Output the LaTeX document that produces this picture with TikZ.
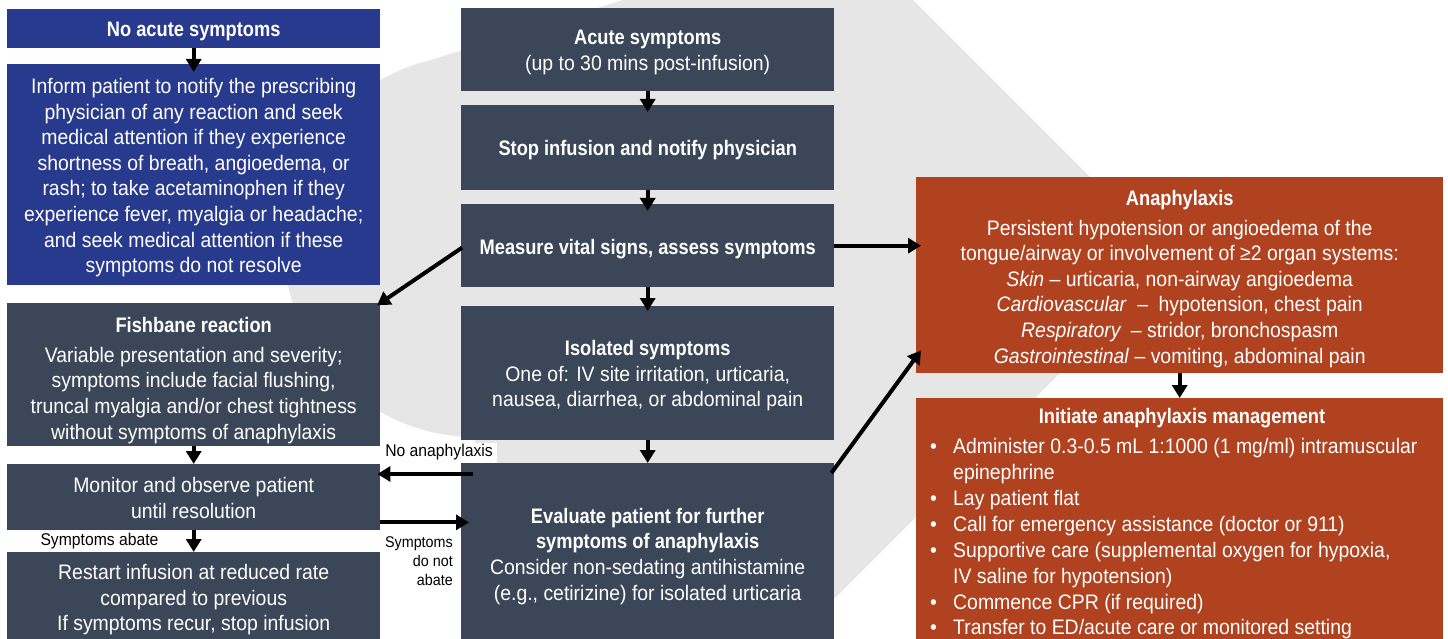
\documentclass[tikz,border=0pt]{standalone}
\usepackage{fontspec}
\setmainfont{Liberation Sans}[FakeStretch=0.925]
\newfontfamily\narrowbold{Liberation Sans}[FakeStretch=0.87]
\usetikzlibrary{arrows.meta,calc}
\definecolor{slate}{HTML}{3B4659}
\definecolor{royal}{HTML}{283A8D}
\definecolor{rust}{HTML}{B14220}
\definecolor{bggrey}{HTML}{E6E6E6}
\newcommand\ttlb[1]{{\narrowbold\bfseries #1}}
\tikzset{
  x=1pt, y=-1pt,
  box/.style={fill=slate, inner sep=0pt, anchor=north west},
  bluebox/.style={box, fill=royal},
  rustbox/.style={box, fill=rust},
  boxtext/.style={inner sep=0pt, text=white, align=center, font=\fontsize{21}{25.6}\selectfont},
  arr/.style={line width=4pt, black, -{Triangle[length=13pt,width=15pt]}},
  lbl/.style={inner sep=0pt, text=black, font=\fontsize{17}{19}\selectfont},
}
% style, name, x, y, width, height, text offset, text
\newcommand\mkbox[8]{%
  \node[#1, minimum width=#5pt, minimum height=#6pt] (#2) at (#3,#4) {};
  \node[boxtext] (#2-t) at ($(#2.center)+(0,#7)$) {#8};}
\begin{document}
\begin{tikzpicture}
\useasboundingbox (0,0) rectangle (1448,639);
\clip (0,0) rectangle (1448,639);
% background watermark
\fill[bggrey] (475,246) circle (191pt);
\fill[bggrey] (418,64) -- (623,0) -- (913,0) -- (1173,260) -- (833,600) -- (794,639) -- (475,639) -- (475,246) -- cycle;

% left column
\mkbox{bluebox}{noacute}{7}{9}{373}{39}{3}{\ttlb{No acute symptoms}}
\mkbox{bluebox}{inform}{7}{64}{373}{221}{3}
  {Inform patient to notify the prescribing\\physician of any reaction and seek\\medical attention if they experience\\shortness of breath, angioedema, or\\rash; to take acetaminophen if they\\experience fever, myalgia or headache;\\and seek medical attention if these\\symptoms do not resolve}
\mkbox{box}{fish}{7}{303}{373}{143}{5.5}
  {\ttlb{Fishbane reaction}\\[4.4pt]Variable presentation and severity;\\symptoms include facial flushing,\\truncal myalgia and/or chest tightness\\without symptoms of anaphylaxis}
\mkbox{box}{monitor}{7}{464}{373}{66}{1}
  {Monitor and observe patient\\until resolution}
\mkbox{box}{restart}{7}{552}{373}{92}{1.5}
  {Restart infusion at reduced rate\\compared to previous\\If symptoms recur, stop infusion}

% middle column
\mkbox{box}{acute}{461}{8}{373}{83}{3}
  {\ttlb{Acute symptoms}\\(up to 30 mins post-infusion)}
\mkbox{box}{stop}{461}{105}{373}{85}{2}
  {\ttlb{Stop infusion and notify physician}}
\mkbox{box}{measure}{461}{204}{373}{83}{3}
  {\ttlb{Measure vital signs, assess symptoms}}
\mkbox{box}{isolated}{461}{306}{373}{134}{2.5}
  {\ttlb{Isolated symptoms}\\One of: IV site irritation, urticaria,\\nausea, diarrhea, or abdominal pain}
\mkbox{box}{eval}{461}{463}{373}{182}{2}
  {\ttlb{Evaluate patient for further}\\\ttlb{symptoms of anaphylaxis}\\Consider non-sedating antihistamine\\(e.g., cetirizine) for isolated urticaria}

% right column
\mkbox{rustbox}{anaph}{916}{177}{527}{196}{3.5}
  {\ttlb{Anaphylaxis}\\[4.4pt]Persistent hypotension or angioedema of the\\tongue/airway or involvement of ≥2 organ systems:\\
   \textit{Skin} – urticaria, non-airway angioedema\\
   \textit{Cardiovascular}\hspace{0.5em}–\hspace{0.5em}hypotension, chest pain\\
   \textit{Respiratory}\hspace{0.45em}– stridor, bronchospasm\\
   \textit{Gastrointestinal} – vomiting, abdominal pain}
\node[rustbox, minimum width=527pt, minimum height=250pt] (init) at (916,398) {};
\node[boxtext] (inittitle) at (1182,418) {\ttlb{Initiate anaphylaxis management}};
\node[boxtext, align=left, anchor=north west, font=\fontsize{21}{25.85}\selectfont] (initlist) at (930,438.5)
  {\makebox[23pt][l]{•}Administer 0.3-0.5 mL 1:1000 (1 mg/ml) intramuscular\\
   \hspace*{23pt}epinephrine\\
   \makebox[23pt][l]{•}Lay patient flat\\
   \makebox[23pt][l]{•}Call for emergency assistance (doctor or 911)\\
   \makebox[23pt][l]{•}Supportive care (supplemental oxygen for hypoxia,\\
   \hspace*{23pt}IV saline for hypotension)\\
   \makebox[23pt][l]{•}Commence CPR (if required)\\
   \makebox[23pt][l]{•}Transfer to ED/acute care or monitored setting};

% labels
\node[lbl, fill=white, inner xsep=4pt, minimum height=20pt, anchor=east] (lblno) at (497,452.5) {No anaphylaxis};
\node[lbl] (lblabate) at (99.5,541.5) {Symptoms abate};
\node[lbl, align=right, anchor=east, font=\fontsize{15.5}{18.7}\selectfont] (lblnot) at (453,561) {Symptoms\\do not\\abate};

% connectors
\draw[arr, shorten >=-8pt] (noacute.south) -- (inform.north);
\draw[arr, shorten >=-7pt] (acute.south) -- (stop.north);
\draw[arr, shorten >=-7pt] (stop.south) -- (measure.north);
\draw[arr, shorten >=-5pt] (measure.south) -- (isolated.north);
\draw[arr] (isolated.south) -- (eval.north);
\draw[arr] (fish.south) -- (monitor.north);
\draw[arr] (monitor.south) -- (restart.north);
\draw[arr] (anaph.south) -- (init.north);
\coordinate (measout) at ($(measure.west)+(1,2)$);
\draw[arr, shorten >=-4pt] (measout) -- (fish.north east);
\draw[arr, shorten >=-5pt] (measure.east) -- (measure.east -| anaph.west);
\coordinate (evalout) at ($(eval.north east)+(-3,10)$);
\coordinate (anaphin) at ($(anaph.south west)+(5,-23)$);
\draw[arr] (evalout) -- (anaphin);
\coordinate (noout) at ($(eval.north west)+(12,11)$);
\draw[arr, shorten >=-3pt] (noout) -- (noout -| monitor.east);
\coordinate (notout) at ($(monitor.south east)+(0,-8)$);
\draw[arr, shorten >=-8pt] (notout) -- (notout -| eval.west);
\end{tikzpicture}
\end{document}
